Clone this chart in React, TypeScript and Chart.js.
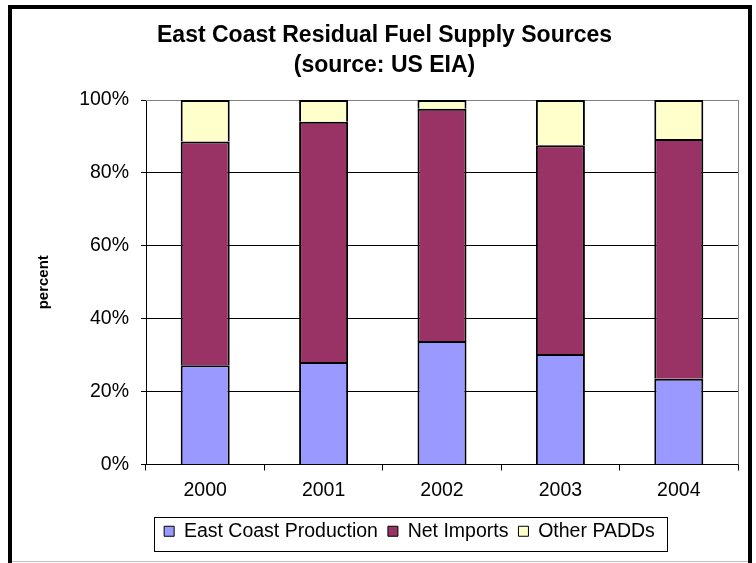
import { useEffect, useRef } from "react";
import { Chart, registerables } from "chart.js";

Chart.register(...registerables);

const years = ["2000", "2001", "2002", "2003", "2004"];
const eastCoastProduction = [27.2, 28.1, 33.9, 30.3, 23.5];
const netImports = [61.4, 65.9, 63.7, 57.3, 65.8];
const otherPADDs = [11.4, 6.0, 2.4, 12.4, 10.7];
const titleLines = ["East Coast Residual Fuel Supply Sources", "(source: US EIA)"];
const seriesNames = ["East Coast Production", "Net Imports", "Other PADDs"];

const FONT = "'Liberation Sans', Arial, sans-serif";

const framePlugin = {
  id: "frame",
  afterLayout(chart: any) {
    const lg = chart.legend;
    if (lg) {
      lg.left += 25;
      lg.right += 25;
    }
  },
  beforeDatasetsDraw(chart: any) {
    const { ctx, chartArea: a } = chart;
    ctx.save();
    ctx.fillStyle = "#808080";
    ctx.fillRect(a.left, a.top, a.right - a.left + 1, 1);
    ctx.fillRect(a.right, a.top, 1, a.bottom - a.top);
    ctx.restore();
  },
  afterDraw(chart: any) {
    const ctx = chart.ctx;
    const lg = chart.legend;
    ctx.save();
    if (lg && lg.lineWidths) {
      const pad = lg.options.labels.padding;
      const total = lg.lineWidths[0];
      const startX = (lg.left + pad + lg.right - total) / 2;
      const endX = startX + total - pad;
      ctx.strokeStyle = "#000";
      ctx.lineWidth = 1;
      ctx.strokeRect(Math.round(startX - 10) + 0.5, Math.round(lg.top + 5) + 0.5, Math.round(endX - startX + 22), 34);
    }
    ctx.fillStyle = "#000";
    ctx.fillRect(8, 5, 744, 4);
    ctx.fillRect(8, 5, 4, 558);
    ctx.fillRect(748, 5, 4, 558);
    ctx.fillStyle = "#c0c0c0";
    ctx.fillRect(12, 561, 736, 1);
    ctx.restore();
  },
};

export default function App() {
  const ref = useRef<HTMLCanvasElement>(null);
  useEffect(() => {
    const chart = new Chart(ref.current as HTMLCanvasElement, {
      type: "bar",
      data: {
        labels: years,
        datasets: [
          { label: seriesNames[0], data: eastCoastProduction, backgroundColor: "#9999FF", borderColor: "#000", borderWidth: 2 },
          { label: seriesNames[1], data: netImports, backgroundColor: "#993366", borderColor: "#000", borderWidth: 2 },
          { label: seriesNames[2], data: otherPADDs, backgroundColor: "#FFFFCC", borderColor: "#000", borderWidth: 2 },
        ],
      },
      options: {
        responsive: false,
        animation: false,
        devicePixelRatio: 1,
        events: [],
        layout: { padding: { top: 10, bottom: 12, left: 31, right: 18 } },
        datasets: { bar: { categoryPercentage: 1, barPercentage: 0.414 } },
        plugins: {
          tooltip: { enabled: false },
          title: {
            display: true,
            text: titleLines,
            color: "#000",
            font: { family: FONT, size: 23, weight: "bold", lineHeight: 1.3 },
            padding: { top: 11, bottom: 19.2 },
          },
          legend: {
            position: "bottom",
            labels: {
              color: "#000",
              font: { family: FONT, size: 19.5 },
              boxWidth: 10,
              boxHeight: 10,
              padding: 10,
              generateLabels: (c: any) =>
                (Chart.defaults.plugins.legend.labels.generateLabels as any)(c).map((l: any) => ({ ...l, lineWidth: 1 })),
            },
          },
        },
        scales: {
          x: {
            stacked: true,
            afterFit: (s: any) => {
              s.height = 47;
            },
            grid: { display: true, drawOnChartArea: false, drawTicks: true, tickLength: 6, color: "#000", offset: true },
            border: { display: true, color: "#000" },
            ticks: { color: "#000", padding: 8, font: { family: FONT, size: 19.5 } },
          },
          y: {
            stacked: true,
            min: 0,
            max: 100,
            afterFit: (s: any) => {
              s.width = 115;
            },
            grid: { color: "#000", tickLength: 5 },
            border: { display: true, color: "#000" },
            ticks: {
              stepSize: 20,
              color: "#000",
              padding: 12,
              font: { family: FONT, size: 19.5 },
              callback: (v: any) => v + "%",
            },
            title: {
              display: true,
              text: "percent",
              color: "#000",
              font: { family: FONT, size: 15, weight: "bold" },
              padding: { top: 4, bottom: 0 },
            },
          },
        },
      },
      plugins: [framePlugin],
    });
    return () => chart.destroy();
  }, []);
  return (
    <div style={{ position: "fixed", left: 0, top: 0, width: 756, height: 563, background: "#fff" }}>
      <canvas ref={ref} width={756} height={563} style={{ display: "block" }} />
    </div>
  );
}
